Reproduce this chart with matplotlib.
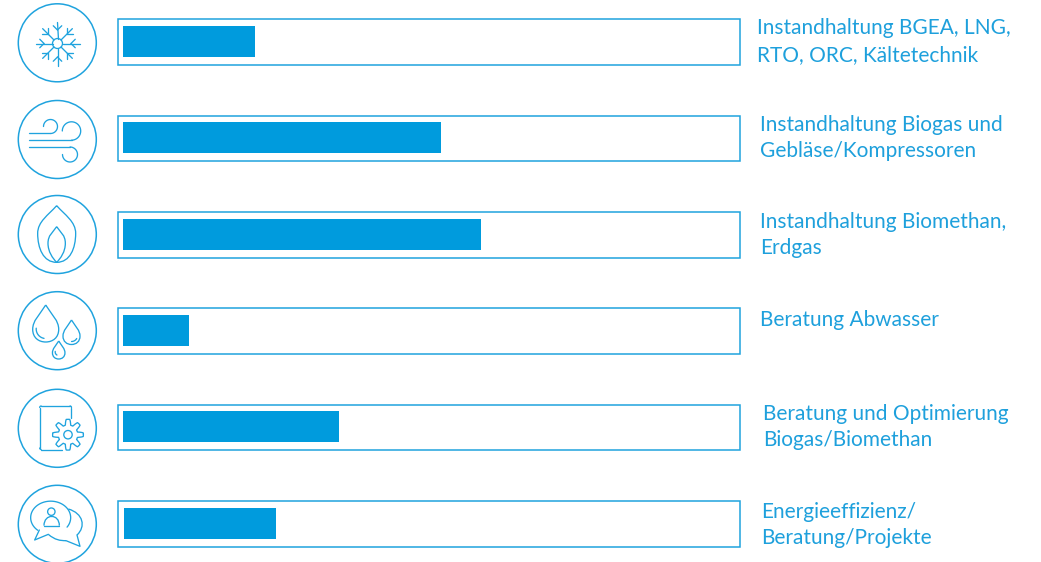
import numpy as np
import matplotlib
matplotlib.use("Agg")
import matplotlib.pyplot as plt
from matplotlib.patches import Circle, Rectangle, PathPatch
from matplotlib.path import Path

labels = [
    "Instandhaltung BGEA, LNG,\nRTO, ORC, Kältetechnik",
    "Instandhaltung Biogas und\nGebläse/Kompressoren",
    "Instandhaltung Biomethan,\nErdgas",
    "Beratung Abwasser",
    "Beratung und Optimierung\nBiogas/Biomethan",
    "Energieeffizienz/\nBeratung/Projekte",
]
bar_starts = [123, 123, 123, 123, 123, 124]
bar_ends = [255, 441, 481, 189, 339, 276]

BLUE = "#009bdd"
LINE = "#1fa3de"
TEXT = "#1ea0dc"
W, H = 1041, 562

frame_tops = [19, 115.5, 212, 308, 404.5, 501]
bar_tops = [26, 122, 219, 315, 411, 508]
icon_cy = [42.8, 139.5, 234.5, 330.7, 428.3, 524.3]
text_xy = [(757, 41.5), (760, 138), (760, 235), (760, 320.5), (763, 427), (761, 525)]

fig = plt.figure(figsize=(W / 100, H / 100), dpi=100)
ax = fig.add_axes([0, 0, 1, 1])
ax.set_xlim(0, W)
ax.set_ylim(H, 0)
ax.axis("off")

for i, lab in enumerate(labels):
    ax.add_patch(Rectangle((117.7, frame_tops[i]), 622.3, 45.5, fill=False, ec=LINE, lw=1.1))
    ax.barh(bar_tops[i] + 15.5, bar_ends[i] - bar_starts[i], height=31, left=bar_starts[i],
            color=BLUE, linewidth=0)
    ax.text(text_xy[i][0], text_xy[i][1], lab, color=TEXT, fontsize=15, family="Lato",
            va="center", ha="left", linespacing=1.39)
    ax.add_patch(Circle((57.3, icon_cy[i]), 39, fill=False, ec=LINE, lw=1.1))

ILW = 0.95


def line(xs, ys):
    ax.plot(xs, ys, color=LINE, lw=ILW, solid_capstyle="round")


def arc(cx, cy, r, a0, a1):
    t = np.radians(np.linspace(a0, a1, 40))
    line(cx + r * np.cos(t), cy + r * np.sin(t))


def curve(pts):
    codes = [Path.MOVETO] + [Path.CURVE4] * (len(pts) - 1)
    ax.add_patch(PathPatch(Path(pts, codes), fill=False, ec=LINE, lw=ILW))


# snowflake
cx, cy = 57.5, 43.5
ax.add_patch(Circle((cx, cy), 5, fill=False, ec=LINE, lw=ILW))
for a in range(0, 360, 45):
    t = np.radians(a)
    d = np.array([np.cos(t), np.sin(t)])
    L = 22 if a % 90 == 0 else 21
    line([cx + 5 * d[0], cx + L * d[0]], [cy + 5 * d[1], cy + L * d[1]])
    base = np.array([cx, cy]) + d * 13.5
    for s in (-45, 45):
        u = np.array([np.cos(t + np.radians(s)), np.sin(t + np.radians(s))])
        tip = base + u * 6
        line([base[0], tip[0]], [base[1], tip[1]])

# wind
line([29, 50], [133.3, 133.3])
arc(50.5, 126.5, 7, 90, -180)
line([29, 72], [140, 140])
arc(71.5, 131, 9.2, 90, -180)
line([29, 70], [147, 147])
arc(70, 154.5, 7.5, -90, 180)

# flame
y0 = 190
P = lambda x, y: (x / 3, y0 + y / 3)
curve([P(170, 47), P(145, 75), P(113, 95), P(113, 130),
       P(113, 175), P(130, 217), P(170, 217),
       P(210, 217), P(227, 175), P(227, 130),
       P(227, 95), P(195, 75), P(170, 47)])
curve([P(170, 110), P(158, 128), P(144, 135), P(144, 160),
       P(144, 185), P(158, 205), P(170, 217),
       P(182, 205), P(196, 185), P(196, 160),
       P(196, 135), P(182, 128), P(170, 110)])


def drop(cx, top, w, bottom):
    h = bottom - top
    r = w / 2
    curve([(cx, top), (cx - r * 0.5, top + h * 0.28), (cx - r, top + h * 0.42), (cx - r, top + h * 0.66),
           (cx - r, top + h * 0.88), (cx - r * 0.55, bottom), (cx, bottom),
           (cx + r * 0.55, bottom), (cx + r, top + h * 0.88), (cx + r, top + h * 0.66),
           (cx + r, top + h * 0.42), (cx + r * 0.5, top + h * 0.28), (cx, top)])


drop(45.7, 305, 26, 342)
drop(71.5, 320, 17, 344.5)
drop(58.7, 341, 12.5, 359)
arc(45.7, 329, 9.5, 100, 185)
arc(71.5, 335.5, 6, 30, 90)
arc(58.7, 352, 3.5, 120, 190)

# document with gear
line([71, 71], [407.5, 418])
line([41, 70], [406, 406])
arc(70, 407.5, 1.5, -90, 0)
arc(41.2, 407.5, 1.5, 180, 270)
line([39.7, 39.7], [407.5, 448])
arc(41.2, 448, 1.5, 90, 180)
line([41.2, 62], [449.5, 449.5])
gx, gy = 68, 434.7
th = np.linspace(0, 2 * np.pi, 400)
rr = 12.6 + 2.8 * np.clip(np.cos(8 * th) * 1.7, -1, 1)
line(gx + rr * np.cos(th), gy + rr * np.sin(th))
ax.add_patch(Circle((gx, gy), 4.2, fill=False, ec=LINE, lw=ILW))

# speech bubbles
oy = 380
Q = lambda x, y: (x / 3, oy + y / 3)
a, b = Q(152, 413)
t = np.radians(np.linspace(130, 395, 100))
line(a + 20 * np.cos(t), b + 16.5 * np.sin(t))
line([Q(118, 450)[0], Q(104, 480)[0], Q(145, 463)[0]], [Q(118, 450)[1], Q(104, 480)[1], Q(145, 463)[1]])
curve([Q(145, 463), Q(165, 480), Q(180, 482), Q(198, 482)])
line([Q(198, 482)[0], Q(240, 499)[0], Q(231, 465)[0]], [Q(198, 482)[1], Q(240, 499)[1], Q(231, 465)[1]])
curve([Q(231, 465), Q(258, 440), Q(250, 400), Q(205, 387)])
ax.add_patch(Circle(Q(154, 395), 3.7, fill=False, ec=LINE, lw=ILW))
curve([Q(132, 437), Q(132, 400), Q(178, 400), Q(178, 437)])
line([Q(132, 437)[0], Q(178, 437)[0]], [Q(132, 437)[1], Q(178, 437)[1]])

fig.savefig("out.png", dpi=100, facecolor="white")
